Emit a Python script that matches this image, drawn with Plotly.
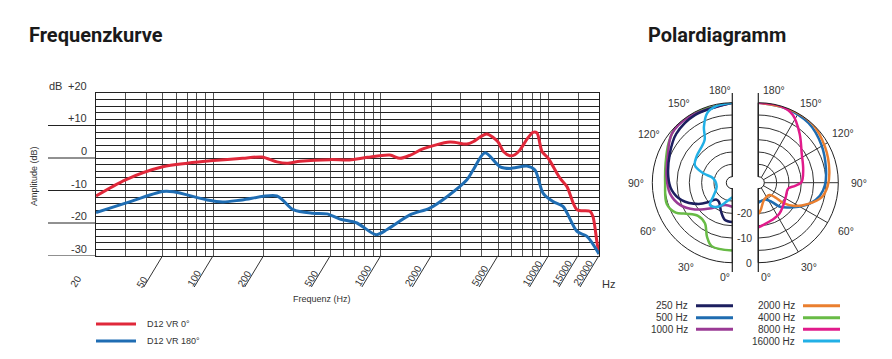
import numpy as np
import plotly.graph_objects as go

W, H = 892, 359

# ---------------- Frequency response data ----------------
freq_0 = [20, 30, 50, 70, 100, 150, 195, 240, 275, 330, 500, 650, 830, 1130, 1300, 1500,
          1780, 2580, 3260, 3550, 3920, 4290, 4990, 5380, 5890, 6300, 6760, 7440, 8080,
          8530, 9140, 9930, 11700, 12880, 14780, 17670, 18410, 19460, 20000]
db_0 = [-11.7, -6.7, -2.7, -1.6, -0.8, -0.1, 0.3, -1.2, -1.6, -1.0, -0.5, -0.6, 0.2, 0.9, -0.1, 0.9,
        2.8, 4.9, 4.3, 5.0, 6.5, 7.4, 5.0, 2.0, 0.7, 1.0, 2.5, 5.8, 7.9,
        7.7, 2.0, 0.0, -6.2, -8.8, -15.9, -16.4, -18.0, -26.0, -29.5]

freq_180 = [20, 30, 50, 58, 92, 114, 149, 240, 300, 394, 477, 570, 720, 935, 1090, 1490, 1960,
            2480, 3260, 3550, 4180, 5140, 5890, 7440, 8300, 9270, 10630, 12190, 14780, 16950, 20000]
db_180 = [-16.8, -13.9, -10.3, -10.4, -12.9, -13.5, -12.9, -11.7, -15.9, -17.0, -17.2, -18.8, -20.0,
          -23.6, -22.0, -17.5, -15.4, -11.9, -6.7, -3.7, 1.6, -2.7, -3.2, -2.5, -3.7, -10.8, -13.4,
          -14.9, -22.6, -24.1, -29.5]

grid_freqs = [20, 30, 40, 50, 60, 70, 80, 90, 100, 200, 300, 400, 500, 600, 700, 800, 900,
              1000, 2000, 3000, 4000, 5000, 6000, 7000, 8000, 9000, 10000, 15000, 20000]
label_freqs = [20, 50, 100, 200, 500, 1000, 2000, 5000, 10000, 15000, 20000]
label_text = ["20", "50", "100", "200", "500", "1000", "2000", "5000", "10000", "15000", "20000"]
y_grid = list(range(-30, 21, 2))
y_major = [20, 10, 0, -10, -20, -30]
y_major_text = ["+20", "+10", "0", "-10", "-20", "-30"]

# ---------------- Polar data (angle in deg, level in dB) ----------------
theta_250 = [0, 11, 21, 35, 44, 50, 58, 71, 83, 95, 115, 131, 151, 180]
r_250 = [-16.5, -17.0, -19.8, -23.0, -23.0, -20.5, -16.2, -10.7, -7.7, -6.4, -4.5, -2.3, -1.1, 0.0]

theta_1000 = [0, 18, 39, 54.5, 67, 80, 95, 112, 129, 147, 180]
r_1000 = [-22.7, -22.9, -19.1, -13.8, -9.4, -6.8, -5.7, -4.2, -0.9, -0.5, 0.0]

theta_4000 = [0, 18, 25, 34, 46, 56, 62, 72, 90, 106, 122, 135, 150, 180]
r_4000 = [-4.9, -5.4, -8.2, -12.6, -13.1, -10.0, -6.5, -4.5, -5.2, -4.3, -2.0, -0.2, 0.0, 0.0]

theta_16000 = [0, 17, 30, 45, 54, 76, 103, 108, 115, 126, 147, 153, 160, 168, 180]
r_16000 = [-26.5, -24.4, -21.2, -19.6, -22.9, -25.9, -24.5, -20.1, -15.7, -14.5, -11.8, -7.1, -2.5, -0.7, 0.0]

theta_500 = [0, 22, 35, 42, 55, 68, 78, 88, 102, 121, 140, 160, 180]
r_500 = [-24.3, -25.1, -23.0, -19.3, -15.1, -9.9, -6.9, -5.4, -4.4, -2.6, -0.8, -0.3, 0.0]

theta_2000 = [0, 5, 18, 42, 49, 51, 57.5, 67, 77, 87, 100, 118, 138, 157, 180]
r_2000 = [-19.7, -21.3, -25.0, -25.7, -23.4, -19.3, -14.8, -10.4, -6.1, -4.3, -3.2, -1.75, 0.0, 0.0, 0.0]

theta_8000 = [0, 7, 20, 34, 48, 63, 79, 85, 91, 106, 124, 140, 153, 164, 180]
r_8000 = [-14.3, -15.2, -16.3, -17.2, -18.8, -19.9, -20.1, -17.5, -14.9, -13.5, -11.2, -6.4, -1.6, 0.0, 0.0]

polar_ticks = [0, 30, 60, 90, 120, 150, 180]
radial_ticks = [-25, -20, -15, -10, -5, 0]
radial_labels = [-20, -10, 0]
radial_label_text = ["-20", "-10", "0"]

# angle labels (text, centre position in px) -- left and right halves
angle_labels_left = [("180°", 719.5, 90), ("150°", 679, 103.5), ("120°", 648.5, 134), ("90°", 636, 183),
                     ("60°", 647.5, 231), ("30°", 686, 266.5), ("0°", 724.5, 277)]
angle_labels_right = [("180°", 773.5, 90), ("150°", 811, 103.5), ("120°", 843, 133.5), ("90°", 858.5, 183),
                      ("60°", 845.5, 231), ("30°", 808.5, 266.5), ("0°", 766, 277)]

legend_left = [("250 Hz", "#1c1f5f"), ("500 Hz", "#1f6cb0"), ("1000 Hz", "#9a3a95")]
legend_right = [("2000 Hz", "#ea7f2f"), ("4000 Hz", "#68bb46"), ("8000 Hz", "#e11b8b"), ("16000 Hz", "#22b0e6")]

RED = "#e0283a"
BLUE = "#1f6db3"
FONT = "Liberation Sans, Arial, sans-serif"
TXT = "#333333"

# pixel scale of the frequency axis (px per decade) used for the slanted label strokes
PX_PER_DEC = 503 / 3.0


def px(x):
    return x / W


def py(y):
    return 1 - y / H


def pann(text, x, y, size, xanchor="center", yanchor="middle", family=FONT, color=TXT, angle=0):
    return dict(text=text, xref="paper", yref="paper", x=px(x), y=py(y), xanchor=xanchor,
                yanchor=yanchor, showarrow=False, textangle=angle,
                font=dict(family=family, size=size, color=color))


fig = go.Figure()

# Frequency curves
fig.add_trace(go.Scatter(x=freq_0, y=db_0, mode="lines", name="D12 VR 0°",
                         line=dict(color=RED, width=3, shape="spline", smoothing=0.8),
                         xaxis="x", yaxis="y", showlegend=False))
fig.add_trace(go.Scatter(x=freq_180, y=db_180, mode="lines", name="D12 VR 180°",
                         line=dict(color=BLUE, width=3, shape="spline", smoothing=0.8),
                         xaxis="x", yaxis="y", showlegend=False))

# Slanted tick strokes below the frequency axis (on an overlay axis pair)
sx, sy = [], []
for f in label_freqs:
    sx += [f, f * 10 ** (-19 / PX_PER_DEC), None]
    sy += [1, 0, None]
fig.add_trace(go.Scatter(x=sx, y=sy, mode="lines", line=dict(color="#333333", width=1),
                         xaxis="x2", yaxis="y2", showlegend=False, hoverinfo="skip"))

# Polar curves
colors = {"250": "#1c1f5f", "500": "#1f6cb0", "1000": "#9a3a95", "2000": "#ea7f2f",
          "4000": "#68bb46", "8000": "#e11b8b", "16000": "#22b0e6"}
left_series = [(theta_4000, r_4000, "4000"), (theta_1000, r_1000, "1000"),
               (theta_250, r_250, "250"), (theta_16000, r_16000, "16000")]
right_series = [(theta_500, r_500, "500"), (theta_2000, r_2000, "2000"), (theta_8000, r_8000, "8000")]
for th, rr, k in left_series:
    fig.add_trace(go.Scatterpolar(theta=th, r=rr, mode="lines", subplot="polar", showlegend=False,
                                  line=dict(color=colors[k], width=2.5, shape="spline", smoothing=1)))
for th, rr, k in right_series:
    fig.add_trace(go.Scatterpolar(theta=th, r=rr, mode="lines", subplot="polar2", showlegend=False,
                                  line=dict(color=colors[k], width=2.5, shape="spline", smoothing=1)))

GRIDC = "#333333"
ang_common = dict(tickvals=polar_ticks, showticklabels=False, showline=True, linecolor="#222222",
                  linewidth=1, gridcolor=GRIDC, gridwidth=1, ticks="")
rad_common = dict(range=[-30, 0], tickvals=radial_ticks, showticklabels=False, showline=False,
                  gridcolor=GRIDC, gridwidth=1, ticks="")

fig.update_layout(
    width=W, height=H, autosize=False,
    margin=dict(l=0, r=0, t=0, b=0),
    paper_bgcolor="white", plot_bgcolor="white",
    xaxis=dict(type="log", range=[np.log10(20), np.log10(20000)], domain=[px(96), px(599)],
               tickvals=grid_freqs, showticklabels=False, showgrid=True, gridcolor="#555555",
               gridwidth=1, zeroline=False, showline=True, linecolor="#222222", mirror=True, ticks=""),
    yaxis=dict(range=[-30, 20], domain=[py(255.5), py(93)], tickvals=y_grid, showticklabels=False,
               showgrid=True, gridcolor="#222222", gridwidth=1, zeroline=False, showline=True,
               linecolor="#222222", mirror=True, ticks=""),
    xaxis2=dict(type="log", range=[np.log10(20), np.log10(20000)], domain=[px(96), px(599)],
                visible=False, anchor="y2"),
    yaxis2=dict(range=[0, 1], domain=[py(287), py(255.5)], visible=False, anchor="x2"),
    polar=dict(domain=dict(x=[px(652.3), px(732.3)], y=[py(262.7), py(102.7)]),
               sector=[90, 270], hole=0.075, bgcolor="white",
               angularaxis=dict(rotation=270, direction="clockwise", **ang_common),
               radialaxis=dict(**rad_common)),
    polar2=dict(domain=dict(x=[px(758.3), px(838.3)], y=[py(262.7), py(102.7)]),
                sector=[-90, 90], hole=0.075, bgcolor="white",
                angularaxis=dict(rotation=270, direction="counterclockwise", **ang_common),
                radialaxis=dict(**rad_common)),
)

shapes = []
annotations = []

# Extended major dB lines and labels
for v, t in zip(y_major, y_major_text):
    if v != 20:
        shapes.append(dict(type="line", xref="x domain", yref="y", x0=(48 - 96) / 503, x1=0,
                           y0=v, y1=v, line=dict(color="#222222", width=1)))
    annotations.append(dict(text=t, xref="x domain", yref="y", x=-7 / 503, y=v, xanchor="right",
                            yanchor="bottom", showarrow=False, yshift=-1,
                            font=dict(family=FONT, size=11, color=TXT)))
annotations.append(dict(text="dB", xref="x domain", yref="y", x=(47 - 96) / 503, y=20, xanchor="left",
                        yanchor="bottom", showarrow=False, yshift=-1,
                        font=dict(family=FONT, size=11, color=TXT)))

# Slanted frequency labels
for f, t in zip(label_freqs, label_text):
    n = len(t)
    annotations.append(dict(text=t, xref="x", yref="y", x=np.log10(f), y=-30, showarrow=False,
                            textangle=-58, xanchor="center", yanchor="middle",
                            xshift=-23 + 1.3 * n, yshift=-(31.5 - 2.8 * n),
                            font=dict(family=FONT, size=10, color=TXT)))

# Axis titles and text
annotations += [
    pann("Amplitude (dB)", 34, 176, 9, angle=-90),
    pann("Frequenz (Hz)", 322, 299, 9),
    pann("Hz", 608, 284, 11),
    pann("<b>Frequenzkurve</b>", 27, 35, 20, xanchor="left", family="Roboto, sans-serif", color="#1a1a1a"),
    pann("<b>Polardiagramm</b>", 646, 35, 20, xanchor="left", family="Roboto, sans-serif", color="#1a1a1a"),
]

# Angle labels for both polar halves
for t, x, y in angle_labels_left + angle_labels_right:
    annotations.append(pann(t, x, y, 10.5))

# Radial level labels beside the right half's 0° ray (centre 182.7 px, outer radius 80 px)
for v, t in zip(radial_labels, radial_label_text):
    rpx = 6 + (v + 30) * (74 / 30)
    annotations.append(pann(t, 754, 182.7 + rpx, 10.5, xanchor="right"))

# Vertical split lines of the polar halves
for xv in [732.3, 758.3]:
    for y0, y1 in [(93, 177), (188, 272)]:
        shapes.append(dict(type="line", xref="paper", yref="paper", x0=px(xv), x1=px(xv),
                           y0=py(y0), y1=py(y1), line=dict(color="#222222", width=1.2)))

# Frequency legend
for i, (t, c) in enumerate([("D12 VR 0°", RED), ("D12 VR 180°", BLUE)]):
    yy = 324 + 17 * i
    shapes.append(dict(type="line", xref="paper", yref="paper", x0=px(96), x1=px(136),
                       y0=py(yy), y1=py(yy), line=dict(color=c, width=3)))
    annotations.append(pann(t, 145, yy, 9, xanchor="left"))

# Polar legend
rows = [305.7, 317.7, 329.3, 341]
for col, (items, tx, lx0, lx1) in enumerate([(legend_left, 690, 696, 733), (legend_right, 797, 803, 840)]):
    for i, (t, c) in enumerate(items):
        yy = rows[i]
        shapes.append(dict(type="line", xref="paper", yref="paper", x0=px(lx0), x1=px(lx1),
                           y0=py(yy), y1=py(yy), line=dict(color=c, width=3)))
        annotations.append(pann(t, tx, yy, 10, xanchor="right"))

fig.update_layout(shapes=shapes, annotations=annotations)
fig.write_html("out.html", config={"displayModeBar": False},
               post_script="document.body.style.margin='0px';")
